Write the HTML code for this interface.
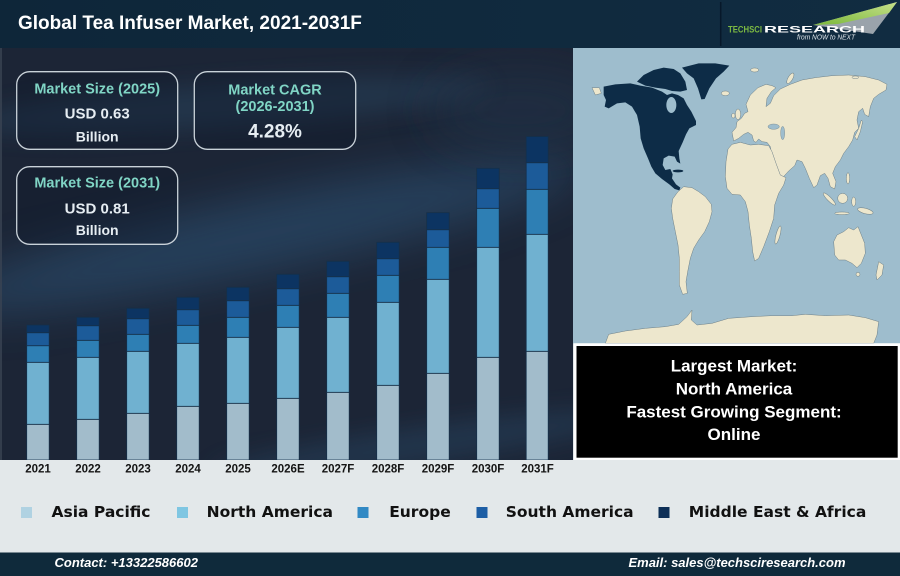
<!DOCTYPE html>
<html><head><meta charset="utf-8"><style>
html,body{margin:0;padding:0;width:900px;height:576px;overflow:hidden;background:#e3e8ea}
svg{display:block}
</style></head><body>
<svg width="900" height="576" viewBox="0 0 900 576" xmlns="http://www.w3.org/2000/svg">
<defs>
<linearGradient id="tb" x1="0" y1="0" x2="1" y2="0"><stop offset="0" stop-color="#0e2639"/><stop offset="1" stop-color="#112c41"/></linearGradient>
<linearGradient id="sw" x1="0" y1="1" x2="1" y2="0"><stop offset="0" stop-color="#7ab83a"/><stop offset="1" stop-color="#c6e08a"/></linearGradient>
<filter id="bl" x="-50%" y="-50%" width="200%" height="200%"><feGaussianBlur stdDeviation="22"/></filter>
<filter id="bl2" x="-50%" y="-50%" width="200%" height="200%"><feGaussianBlur stdDeviation="12"/></filter>
<clipPath id="cp"><rect x="0" y="48" width="573" height="412"/></clipPath>
</defs>

<!-- page base -->
<rect x="0" y="0" width="900" height="576" fill="#e3e8ea"/>

<!-- chart panel background -->
<rect x="0" y="48" width="573" height="412" fill="#1c2536"/>
<g clip-path="url(#cp)">
<ellipse cx="260" cy="235" rx="330" ry="38" transform="rotate(-12 260 235)" fill="#2d5578" opacity="0.55" filter="url(#bl)"/>
<ellipse cx="230" cy="105" rx="260" ry="22" transform="rotate(-4 230 105)" fill="#2b4864" opacity="0.45" filter="url(#bl2)"/>
<ellipse cx="420" cy="445" rx="210" ry="18" transform="rotate(-8 420 445)" fill="#2a4d6c" opacity="0.4" filter="url(#bl2)"/>
<ellipse cx="520" cy="110" rx="90" ry="40" fill="#23344b" opacity="0.5" filter="url(#bl)"/>
<rect x="0" y="48" width="2" height="412" fill="#3a4452" opacity="0.8"/>
</g>

<!-- title bar -->
<rect x="0" y="0" width="900" height="48" fill="url(#tb)"/>
<text x="18" y="29" font-family="'Liberation Sans',Arial,sans-serif" font-weight="bold" font-size="19" fill="#ffffff">Global Tea Infuser Market, 2021-2031F</text>

<!-- logo -->
<line x1="720.7" y1="2" x2="720.7" y2="46" stroke="#07182a" stroke-width="1.5"/>
<polygon points="813,25 897,2 873,34" fill="#9aa3ab"/>
<polygon points="813,25 897,2 889,13 838,24" fill="url(#sw)"/>
<text x="728" y="32.7" font-family="'Liberation Sans',Arial,sans-serif" font-weight="bold" font-size="9" fill="#7dbb42" textLength="34" lengthAdjust="spacingAndGlyphs">TECHSCI</text>
<text x="764" y="32.7" font-family="'Liberation Sans',Arial,sans-serif" font-weight="bold" font-size="9" fill="#ffffff" textLength="101" lengthAdjust="spacingAndGlyphs">RESEARCH</text>
<text x="797" y="39.5" font-family="'Liberation Sans',Arial,sans-serif" font-style="italic" font-size="7.5" fill="#dfe6ea" textLength="58" lengthAdjust="spacingAndGlyphs">from NOW to NEXT</text>

<!-- KPI boxes -->
<g font-family="'Liberation Sans',Arial,sans-serif" font-weight="bold" text-anchor="middle">
<rect x="16.7" y="71.7" width="161" height="77.6" rx="13" fill="#0f1828" fill-opacity="0.35" stroke="#c9d2d9" stroke-width="1.3"/>
<text x="97.2" y="93.3" font-size="14.5" fill="#80d5c5">Market Size (2025)</text>
<text x="97.2" y="118.3" font-size="15" fill="#e6edf2">USD 0.63</text>
<text x="97.2" y="141.7" font-size="14" fill="#e6edf2">Billion</text>

<rect x="194.3" y="71.7" width="161.4" height="77.6" rx="13" fill="#0f1828" fill-opacity="0.35" stroke="#c9d2d9" stroke-width="1.3"/>
<text x="275" y="94.3" font-size="14.5" fill="#80d5c5">Market CAGR</text>
<text x="275" y="111" font-size="14.5" fill="#80d5c5">(2026-2031)</text>
<text x="275" y="137.3" font-size="19" fill="#e6edf2">4.28%</text>

<rect x="16.7" y="166.7" width="161" height="77.6" rx="13" fill="#0f1828" fill-opacity="0.35" stroke="#c9d2d9" stroke-width="1.3"/>
<text x="97.2" y="187.7" font-size="14.5" fill="#80d5c5">Market Size (2031)</text>
<text x="97.2" y="213.3" font-size="15" fill="#e6edf2">USD 0.81</text>
<text x="97.2" y="235" font-size="14" fill="#e6edf2">Billion</text>
</g>

<!-- bars -->
<g stroke="#15304a" stroke-width="0.8">
<!-- 2021 -->
<rect x="26.7" y="424.3" width="22.5" height="35.7" fill="#a2bccb"/>
<rect x="26.7" y="362.3" width="22.5" height="62" fill="#70b1d0"/>
<rect x="26.7" y="345.7" width="22.5" height="16.6" fill="#2e7fb4"/>
<rect x="26.7" y="332.7" width="22.5" height="13" fill="#1c5b99"/>
<rect x="26.7" y="325" width="22.5" height="7.7" fill="#0c3462"/>
<!-- 2022 -->
<rect x="76.7" y="419.3" width="22.5" height="40.7" fill="#a2bccb"/>
<rect x="76.7" y="357.3" width="22.5" height="62" fill="#70b1d0"/>
<rect x="76.7" y="340.3" width="22.5" height="17" fill="#2e7fb4"/>
<rect x="76.7" y="325.7" width="22.5" height="14.6" fill="#1c5b99"/>
<rect x="76.7" y="317.3" width="22.5" height="8.4" fill="#0c3462"/>
<!-- 2023 -->
<rect x="126.7" y="413.3" width="22.5" height="46.7" fill="#a2bccb"/>
<rect x="126.7" y="351.3" width="22.5" height="62" fill="#70b1d0"/>
<rect x="126.7" y="334.3" width="22.5" height="17" fill="#2e7fb4"/>
<rect x="126.7" y="318.7" width="22.5" height="15.6" fill="#1c5b99"/>
<rect x="126.7" y="308.3" width="22.5" height="10.4" fill="#0c3462"/>
<!-- 2024 -->
<rect x="176.7" y="406.3" width="22.5" height="53.7" fill="#a2bccb"/>
<rect x="176.7" y="343.3" width="22.5" height="63" fill="#70b1d0"/>
<rect x="176.7" y="325.3" width="22.5" height="18" fill="#2e7fb4"/>
<rect x="176.7" y="309.7" width="22.5" height="15.6" fill="#1c5b99"/>
<rect x="176.7" y="297.3" width="22.5" height="12.4" fill="#0c3462"/>
<!-- 2025 -->
<rect x="226.7" y="403.3" width="22.5" height="56.7" fill="#a2bccb"/>
<rect x="226.7" y="337.3" width="22.5" height="66" fill="#70b1d0"/>
<rect x="226.7" y="317.3" width="22.5" height="20" fill="#2e7fb4"/>
<rect x="226.7" y="300.7" width="22.5" height="16.6" fill="#1c5b99"/>
<rect x="226.7" y="287.3" width="22.5" height="13.4" fill="#0c3462"/>
<!-- 2026E -->
<rect x="276.7" y="398.3" width="22.5" height="61.7" fill="#a2bccb"/>
<rect x="276.7" y="327.3" width="22.5" height="71" fill="#70b1d0"/>
<rect x="276.7" y="305.3" width="22.5" height="22" fill="#2e7fb4"/>
<rect x="276.7" y="288.7" width="22.5" height="16.6" fill="#1c5b99"/>
<rect x="276.7" y="274.3" width="22.5" height="14.4" fill="#0c3462"/>
<!-- 2027F -->
<rect x="326.7" y="392.3" width="22.5" height="67.7" fill="#a2bccb"/>
<rect x="326.7" y="317.3" width="22.5" height="75" fill="#70b1d0"/>
<rect x="326.7" y="293.3" width="22.5" height="24" fill="#2e7fb4"/>
<rect x="326.7" y="276.7" width="22.5" height="16.6" fill="#1c5b99"/>
<rect x="326.7" y="261.3" width="22.5" height="15.4" fill="#0c3462"/>
<!-- 2028F -->
<rect x="376.7" y="385.3" width="22.5" height="74.7" fill="#a2bccb"/>
<rect x="376.7" y="302.3" width="22.5" height="83" fill="#70b1d0"/>
<rect x="376.7" y="275.3" width="22.5" height="27" fill="#2e7fb4"/>
<rect x="376.7" y="258.7" width="22.5" height="16.6" fill="#1c5b99"/>
<rect x="376.7" y="242.3" width="22.5" height="16.4" fill="#0c3462"/>
<!-- 2029F -->
<rect x="426.7" y="373.3" width="22.5" height="86.7" fill="#a2bccb"/>
<rect x="426.7" y="279.3" width="22.5" height="94" fill="#70b1d0"/>
<rect x="426.7" y="247.3" width="22.5" height="32" fill="#2e7fb4"/>
<rect x="426.7" y="229.7" width="22.5" height="17.6" fill="#1c5b99"/>
<rect x="426.7" y="212.7" width="22.5" height="17" fill="#0c3462"/>
<!-- 2030F -->
<rect x="476.7" y="357.3" width="22.5" height="102.7" fill="#a2bccb"/>
<rect x="476.7" y="247.3" width="22.5" height="110" fill="#70b1d0"/>
<rect x="476.7" y="208.3" width="22.5" height="39" fill="#2e7fb4"/>
<rect x="476.7" y="188.7" width="22.5" height="19.6" fill="#1c5b99"/>
<rect x="476.7" y="168.3" width="22.5" height="20.4" fill="#0c3462"/>
<!-- 2031F -->
<rect x="526.2" y="351.3" width="22" height="108.7" fill="#a2bccb"/>
<rect x="526.2" y="234.3" width="22" height="117" fill="#70b1d0"/>
<rect x="526.2" y="189.3" width="22" height="45" fill="#2e7fb4"/>
<rect x="526.2" y="162.7" width="22" height="26.6" fill="#1c5b99"/>
<rect x="526.2" y="136.5" width="22" height="26.2" fill="#0c3462"/>
</g>

<!-- gray bottom area -->
<rect x="0" y="460" width="900" height="93" fill="#e3e8ea"/>

<!-- x labels -->
<g font-family="'Liberation Sans',Arial,sans-serif" font-weight="bold" font-size="11.5" fill="#141414" text-anchor="middle">
<text x="38" y="472.3">2021</text>
<text x="88" y="472.3">2022</text>
<text x="138" y="472.3">2023</text>
<text x="188" y="472.3">2024</text>
<text x="238" y="472.3">2025</text>
<text x="288" y="472.3">2026E</text>
<text x="338" y="472.3">2027F</text>
<text x="388" y="472.3">2028F</text>
<text x="438" y="472.3">2029F</text>
<text x="488" y="472.3">2030F</text>
<text x="537.5" y="472.3">2031F</text>
</g>

<!-- legend -->
<rect x="21" y="507" width="11" height="11" fill="#b0d2e2"/>
<rect x="177" y="507" width="11" height="11" fill="#7fc6e2"/>
<rect x="357.5" y="507" width="11" height="11" fill="#3189c4"/>
<rect x="476.5" y="507" width="11" height="11" fill="#1d5ea5"/>
<rect x="658.5" y="507" width="11" height="11" fill="#0d2f57"/>
<g font-family="'DejaVu Sans',sans-serif" font-weight="bold" font-size="15.5" fill="#111111">
<text x="51.5" y="517">Asia Pacific</text>
<text x="206.6" y="517">North America</text>
<text x="389.2" y="517">Europe</text>
<text x="505.7" y="517">South America</text>
<text x="688.8" y="517">Middle East &amp; Africa</text>
</g>

<!-- footer -->
<rect x="0" y="552.5" width="900" height="23.5" fill="#0f2a3b"/>
<g font-family="'Liberation Sans',Arial,sans-serif" font-weight="bold" font-style="italic" font-size="13" fill="#ffffff">
<text x="54.5" y="567">Contact: +13322586602</text>
<text x="628.5" y="567" textLength="217" lengthAdjust="spacingAndGlyphs">Email: sales@techsciresearch.com</text>
</g>

<!-- map -->
<svg x="572" y="45" width="328" height="300" viewBox="0 0 984 900">
<rect x="3" y="9" width="981" height="886" fill="#9ebdcd"/>
<g fill="#ede7cd" stroke="#6d7f86" stroke-width="1.5" stroke-linejoin="round">
<path d="M485,288 L480,262 L492,248 L495,230 L508,220 L518,205 L528,200 L522,178 L535,150 L558,128 L582,118 L600,122 L612,128 L598,140 L585,160 L582,185 L595,175 L605,152 L625,132 L655,118 L690,105 L730,98 L780,92 L830,90 L880,95 L920,105 L945,118 L942,135 L920,148 L905,160 L895,185 L890,215 L878,208 L872,190 L860,200 L855,225 L860,250 L848,262 L842,285 L830,305 L815,325 L805,345 L790,365 L782,385 L792,410 L788,432 L775,425 L768,400 L758,385 L745,392 L735,420 L725,428 L712,400 L700,370 L690,350 L675,345 L668,362 L650,378 L630,400 L620,402 L610,370 L600,335 L595,305 L585,292 L570,290 L560,282 L552,292 L545,288 L540,270 L528,262 L515,268 L500,280 Z"/>
<path d="M468,312 L480,298 L505,292 L535,300 L560,298 L590,302 L600,320 L612,355 L625,390 L642,398 L635,420 L620,445 L608,480 L605,520 L592,560 L575,605 L560,640 L548,648 L542,620 L538,580 L532,540 L528,500 L520,470 L505,450 L480,448 L465,430 L460,395 L462,350 Z"/>
<path d="M318,440 L335,425 L360,428 L380,440 L400,455 L418,478 L420,500 L412,530 L398,560 L380,585 L365,610 L355,640 L348,675 L342,710 L346,745 L332,748 L322,720 L322,680 L322,640 L318,600 L310,560 L302,520 L298,490 L302,462 Z"/>
<path d="M785,590 L795,570 L815,560 L830,548 L845,555 L858,545 L868,570 L878,595 L880,625 L868,655 L855,668 L840,655 L820,645 L800,645 L788,630 Z"/>
<path d="M920,650 L935,660 L930,690 L915,705 L912,690 Z"/>
<path d="M848,275 L860,250 L868,225 L872,230 L865,260 L855,285 Z"/>
<path d="M60,128 L82,128 L88,145 L70,150 Z"/>
<path d="M100,895 L110,868 L160,858 L220,850 L280,845 L320,838 L345,815 L360,795 L358,825 L375,840 L420,835 L470,820 L540,815 L600,812 L660,812 L700,808 L760,812 L830,810 L880,818 L920,830 L915,870 L905,895 Z"/>
<ellipse cx="618" cy="570" rx="6" ry="28" transform="rotate(15 618 570)"/>
<ellipse cx="858" cy="688" rx="6" ry="6"/>
<ellipse cx="772" cy="462" rx="25" ry="6" transform="rotate(45 772 462)"/>
<ellipse cx="812" cy="460" rx="15" ry="15"/>
<ellipse cx="810" cy="505" rx="22" ry="4"/>
<ellipse cx="845" cy="470" rx="6" ry="14"/>
<ellipse cx="880" cy="498" rx="24" ry="8" transform="rotate(15 880 498)"/>
<ellipse cx="828" cy="400" rx="5" ry="17"/>
<ellipse cx="498" cy="208" rx="8" ry="16"/>
<ellipse cx="484" cy="212" rx="5" ry="7"/>
<ellipse cx="460" cy="145" rx="12" ry="7"/>
<ellipse cx="655" cy="100" rx="7" ry="18" transform="rotate(30 655 100)"/>
<ellipse cx="548" cy="75" rx="12" ry="6"/>
<ellipse cx="850" cy="97" rx="10" ry="4"/>
</g>
<g fill="#9ebdcd" stroke="#6d7f86" stroke-width="1.2">
<ellipse cx="605" cy="245" rx="17" ry="8"/>
<ellipse cx="632" cy="264" rx="6" ry="20"/>
</g>
<g fill="#0d2c47">
<path d="M95,125 L130,118 L175,115 L205,122 L240,128 L270,140 L285,150 L300,145 L318,150 L335,160 L345,180 L358,200 L372,228 L372,240 L352,250 L342,268 L332,292 L320,318 L322,340 L325,356 L315,350 L308,335 L290,332 L275,340 L272,360 L280,375 L295,372 L302,388 L300,400 L312,418 L325,428 L322,436 L308,432 L292,418 L270,402 L250,385 L238,365 L228,340 L215,310 L206,280 L203,245 L195,210 L180,185 L160,172 L135,175 L110,190 L98,185 L102,165 L95,150 Z"/>
<path d="M195,110 L215,90 L245,75 L275,68 L305,72 L325,85 L340,110 L345,135 L325,140 L300,138 L280,132 L250,128 L220,122 Z"/>
<path d="M330,68 L380,55 L430,55 L472,62 L455,80 L432,100 L412,130 L398,162 L388,163 L378,130 L365,100 L345,85 Z"/>
<ellipse cx="318" cy="378" rx="16" ry="4"/>
</g>
<ellipse cx="298" cy="180" rx="15" ry="24" fill="#9ebdcd"/>
</svg>

<!-- black info box -->
<rect x="574" y="343.3" width="326" height="116.7" fill="#ffffff"/>
<rect x="576.5" y="346" width="321.2" height="111.7" fill="#000000"/>
<g font-family="'Liberation Sans',Arial,sans-serif" font-weight="bold" font-size="17" fill="#ffffff" text-anchor="middle">
<text x="734" y="371.7">Largest Market:</text>
<text x="734" y="394.3">North America</text>
<text x="734" y="417.3">Fastest Growing Segment:</text>
<text x="734" y="440">Online</text>
</g>
</svg>
</body></html>
